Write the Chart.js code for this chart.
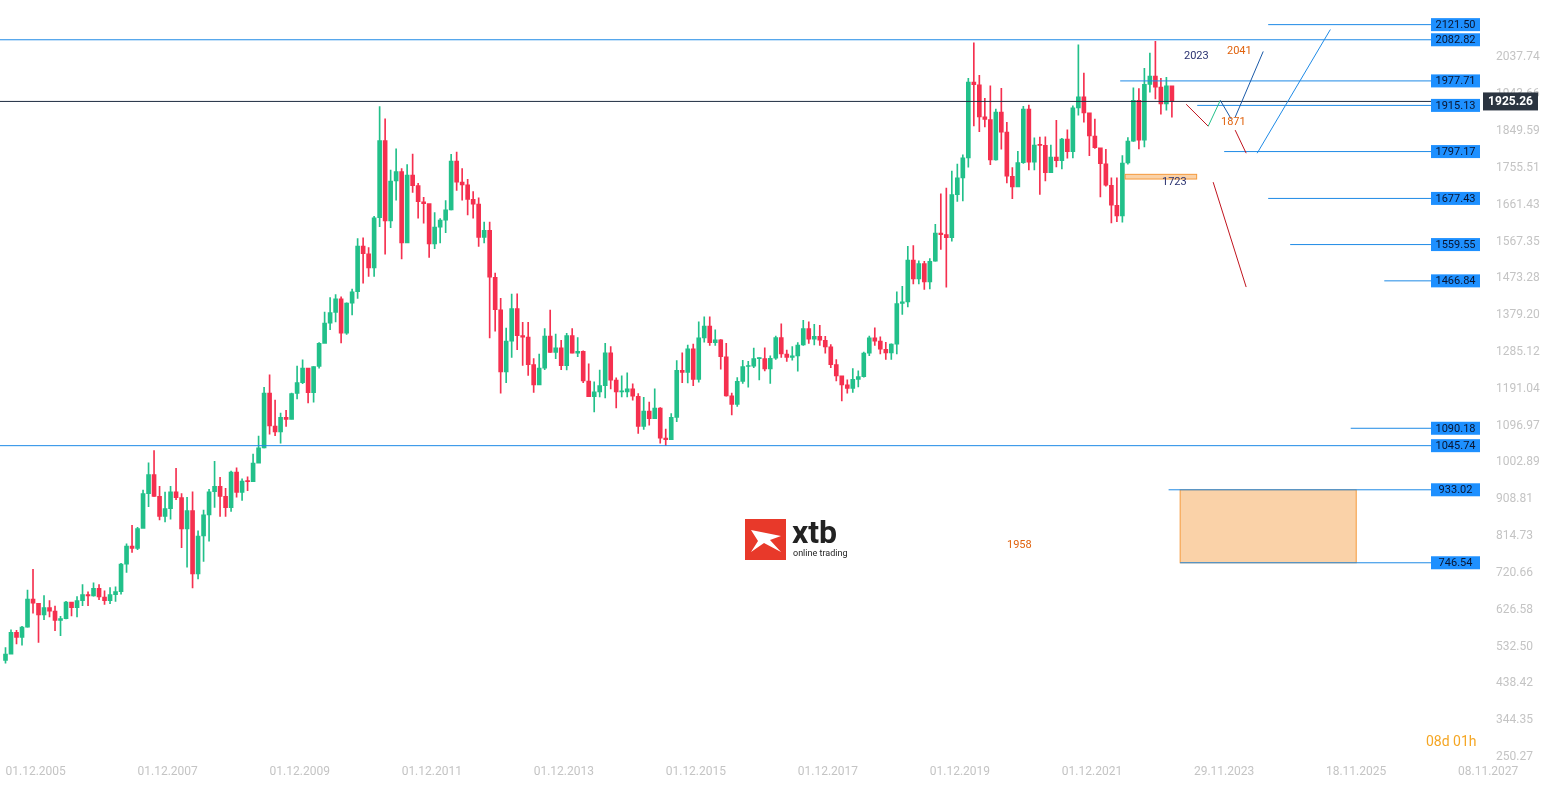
<!DOCTYPE html>
<html>
<head>
<meta charset="utf-8">
<script src="https://cdn.jsdelivr.net/npm/chart.js@4.4.1/dist/chart.umd.min.js"></script>
<style>
  html, body { margin: 0; padding: 0; background: #fff; }
</style>
</head>
<body>
<canvas id="chart" width="1548" height="787"></canvas>
<script>
// monthly candles, Dec 2005 .. Aug 2023 (x = months since Dec 2005)
const firstOpen = 497;
const closes = [513,
  569,556,582,654,643,613,632,623,599,604,646,632,
  650,665,662,681,659,650,665,673,743,789,783,834,
  923,972,916,865,885,928,913,833,880,718,815,869,
  928,942,916,887,978,926,955,954,1001,1040,1180,1096,
  1081,1118,1113,1179,1207,1244,1181,1248,1307,1359,1386,1421,
  1333,1410,1439,1556,1536,1500,1628,1825,1620,1722,1746,1564,
  1737,1710,1669,1664,1561,1604,1622,1648,1773,1719,1712,1675,
  1663,1578,1596,1476,1393,1234,1313,1396,1327,1323,1253,1201,
  1244,1326,1284,1296,1250,1327,1282,1287,1211,1171,1183,1199,
  1283,1213,1183,1183,1191,1172,1095,1134,1115,1142,1065,1061,
  1118,1238,1233,1293,1215,1321,1351,1309,1316,1273,1173,1151,
  1210,1248,1249,1268,1268,1242,1269,1322,1280,1271,1275,1303,
  1345,1318,1325,1315,1298,1253,1224,1201,1192,1215,1222,1282,
  1321,1313,1292,1283,1305,1409,1413,1520,1472,1511,1464,1517,
  1589,1585,1577,1687,1730,1781,1975,1968,1886,1879,1776,1898,
  1847,1734,1707,1769,1906,1770,1814,1813,1743,1783,1774,1829,
  1797,1909,1937,1896,1837,1807,1766,1711,1660,1633,1768,1824,
  1928,1826,1969,1990,1962,1919,1965,1925];
const highs = [530,
  575,574,584,677,730,632,663,650,636,610,648,640,
  660,691,672,695,691,675,683,685,745,795,842,837,
  932,1002,1033,942,927,942,988,923,914,928,828,881,
  934,1006,965,937,981,989,961,966,1024,1070,1195,1227,
  1162,1129,1136,1180,1249,1265,1212,1248,1309,1387,1424,1432,
  1426,1411,1446,1575,1577,1552,1632,1912,1881,1750,1804,1754,
  1764,1791,1716,1680,1625,1641,1626,1672,1790,1796,1754,1726,
  1695,1679,1617,1617,1487,1422,1346,1433,1434,1361,1361,1268,
  1280,1345,1392,1331,1315,1333,1345,1322,1288,1255,1209,1239,
  1307,1299,1219,1224,1232,1204,1179,1169,1157,1191,1143,1088,
  1128,1263,1283,1303,1305,1362,1375,1375,1342,1317,1307,1180,
  1220,1264,1261,1295,1270,1296,1275,1326,1357,1290,1299,1309,
  1366,1362,1356,1353,1325,1304,1266,1217,1214,1243,1237,1285,
  1326,1347,1324,1310,1306,1439,1453,1555,1557,1518,1517,1524,
  1611,1689,1704,1747,1765,1789,1984,2075,1992,1933,1965,1906,
  1959,1872,1756,1798,1913,1916,1832,1834,1835,1814,1877,1831,
  1853,1914,2070,1998,1869,1880,1784,1803,1730,1730,1787,1833,
  1960,1958,2010,2049,2079,1984,1987,1948];
const lows = [490,
  515,539,536,582,618,543,601,608,573,560,603,611,
  608,637,637,661,652,640,642,648,666,722,773,780,
  836,890,916,856,851,858,908,785,735,682,705,750,
  802,888,865,865,878,914,906,931,991,1003,1040,1075,
  1071,1052,1095,1114,1165,1204,1155,1157,1244,1316,1342,1362,
  1308,1330,1380,1422,1461,1478,1478,1605,1535,1603,1673,1523,
  1576,1693,1627,1614,1527,1549,1564,1590,1648,1698,1673,1635,
  1627,1555,1564,1321,1338,1180,1207,1271,1291,1251,1225,1182,
  1202,1240,1284,1268,1240,1239,1283,1273,1207,1183,1132,1170,
  1168,1191,1142,1170,1170,1162,1077,1087,1098,1136,1052,1046,
  1061,1107,1207,1206,1199,1208,1310,1302,1302,1241,1172,1124,
  1146,1205,1195,1245,1214,1237,1205,1266,1271,1261,1264,1236,
  1302,1307,1303,1302,1282,1245,1211,1160,1180,1182,1196,1221,
  1276,1302,1280,1266,1266,1280,1381,1400,1459,1459,1445,1446,
  1517,1547,1451,1568,1670,1671,1757,1863,1848,1860,1764,1775,
  1803,1717,1677,1723,1767,1750,1750,1688,1722,1746,1758,1753,
  1780,1781,1890,1872,1787,1805,1681,1709,1615,1618,1617,1765,
  1823,1804,1809,1949,1932,1893,1903,1885];

const xTickMonths = [0,24,48,72,96,120,144,168,192,216,240,264];
const xTickLabels = ["01.12.2005","01.12.2007","01.12.2009","01.12.2011","01.12.2013","01.12.2015",
  "01.12.2017","01.12.2019","01.12.2021","29.11.2023","18.11.2025","08.11.2027"];
const yTickValues = [250.27,344.35,438.42,532.50,626.58,720.66,814.73,908.81,1002.89,1096.97,
  1191.04,1285.12,1379.20,1473.28,1567.35,1661.43,1755.51,1849.59,1943.66,2037.74];

// horizontal levels: value and starting month
const levelValues = [2121.50,2082.82,1977.71,1915.13,1797.17,1677.43,1559.55,1466.84,1090.18,1045.74,933.02,746.54];
const levelStarts = [229.5,-1,202.6,216.6,221.5,229.5,233.5,250.6,244.5,-1,211.4,213.5];
const currentPrice = 1925.26;

// projection paths [month, price]
const redPath1 = [[214.6,1918],[218.6,1862]];
const greenPath = [[218.6,1862],[220.8,1928]];
const navyPath = [[220.8,1928],[222.8,1880]];
const navyPath2 = [[223.5,1885],[228.6,2053]];
const redPath2 = [[223.5,1852],[225.5,1793]];
const bluePath = [[227.5,1793],[240.8,2109]];
const redPath3 = [[219.5,1719],[225.5,1451]];
const zoneBig = [213.5,245.5,746.54,933.02];
const zoneSmall = [203.5,216.5,1727,1739];

const opens = closes.map((c, i) => i === 0 ? firstOpen : closes[i - 1]);
const UP = "#22c08a", DOWN = "#f5304f";
const candleColors = closes.map((c, i) => c >= opens[i] ? UP : DOWN);

const overlay = {
  id: "overlay",
  afterDatasetsDraw(chart) {
    const { ctx, chartArea: a, scales: { x, y } } = chart;
    const px = m => x.getPixelForValue(m), py = v => y.getPixelForValue(v);
    ctx.save();
    // zones
    ctx.fillStyle = "rgba(247,180,110,0.6)";
    ctx.strokeStyle = "#f59a3c";
    ctx.lineWidth = 1;
    for (const z of [zoneBig, zoneSmall]) {
      const x0 = px(z[0]), x1 = px(z[1]), y0 = py(z[3]), y1 = py(z[2]);
      ctx.fillRect(x0, y0, x1 - x0, y1 - y0);
      ctx.strokeRect(x0, y0, x1 - x0, y1 - y0);
    }
    // level lines
    ctx.strokeStyle = "#1e8ae6";
    levelValues.forEach((v, i) => {
      ctx.beginPath();
      ctx.moveTo(px(Math.max(levelStarts[i], x.min)), py(v));
      ctx.lineTo(a.right, py(v));
      ctx.stroke();
    });
    ctx.strokeStyle = "#1d2b40";
    ctx.beginPath(); ctx.moveTo(a.left, py(currentPrice)); ctx.lineTo(a.right, py(currentPrice)); ctx.stroke();
    // paths
    const path = (pts, col) => {
      ctx.strokeStyle = col; ctx.beginPath();
      pts.forEach((p, i) => i ? ctx.lineTo(px(p[0]), py(p[1])) : ctx.moveTo(px(p[0]), py(p[1])));
      ctx.stroke();
    };
    path(redPath1, "#c0141e"); path(greenPath, "#22c08a"); path(navyPath, "#1a5aa8"); path(navyPath2, "#1a5aa8");
    path(redPath2, "#c0141e"); path(bluePath, "#1e8ae6"); path(redPath3, "#c0141e");
    // texts
    ctx.font = "11px Roboto";
    ctx.textBaseline = "middle";
    ctx.fillStyle = "#2a3270"; ctx.fillText("2023", 1184, 56); ctx.fillText("1723", 1162, 182);
    ctx.fillStyle = "#e0620d"; ctx.fillText("2041", 1227, 51); ctx.fillText("1871", 1221, 122);
    ctx.fillText("1958", 1007, 545);
    ctx.font = "14px Roboto"; ctx.fillStyle = "#f5a623"; ctx.fillText("08d 01h", 1426, 742);
    // level boxes
    ctx.font = "11px Roboto";
    levelValues.forEach(v => {
      const yy = py(v);
      ctx.fillStyle = "#1e90ff";
      ctx.fillRect(a.right - 49, yy - 6.5, 49, 13);
      ctx.fillStyle = "#0a1530";
      ctx.textAlign = "center";
      ctx.fillText(v.toFixed(2), a.right - 24.5, yy + 0.5);
    });
    // current price box
    ctx.fillStyle = "#2b3440";
    ctx.fillRect(a.right + 3, py(currentPrice) - 9, 55, 18);
    ctx.fillStyle = "#fff"; ctx.font = "bold 12px Roboto";
    ctx.fillText(currentPrice.toFixed(2), a.right + 30.5, py(currentPrice) + 0.5);
    // logo
    ctx.textAlign = "left";
    ctx.fillStyle = "#e8392a"; ctx.fillRect(745, 519, 41, 41);
    ctx.fillStyle = "#fff";
    ctx.beginPath();
    ctx.moveTo(751, 530); ctx.lineTo(781, 536); ctx.lineTo(770, 540); ctx.lineTo(781, 552);
    ctx.lineTo(764, 543); ctx.lineTo(751, 552); ctx.lineTo(758, 541); ctx.closePath(); ctx.fill();
    ctx.fillStyle = "#222"; ctx.font = "bold 32px Roboto"; ctx.fillText("xtb", 792, 535);
    ctx.font = "9px Roboto"; ctx.fillText("online trading", 793, 554);
    ctx.restore();
  }
};

new Chart(document.getElementById("chart"), {
  type: "bar",
  data: {
    datasets: [
      { data: closes.map((c, i) => ({ x: i, y: [lows[i], highs[i]] })), backgroundColor: candleColors, barThickness: 1, grouped: false },
      { data: closes.map((c, i) => ({ x: i, y: [opens[i], c] })), backgroundColor: candleColors, barThickness: 4, minBarLength: 1, grouped: false }
    ]
  },
  options: {
    responsive: false, animation: false,
    devicePixelRatio: 1,
    layout: { padding: 0 },
    plugins: { legend: { display: false }, tooltip: { enabled: false } },
    scales: {
      x: {
        type: "linear", min: -1, max: 268, offset: false,
        grid: { display: false }, border: { display: false },
        afterBuildTicks: s => { s.ticks = xTickMonths.map(v => ({ value: v })); },
        afterFit: s => { s.height = 27; },
        ticks: { align: "start", padding: -3, maxRotation: 0, autoSkip: false, color: "#c4c4c4", font: { family: "Roboto", size: 12 },
          callback: v => xTickLabels[xTickMonths.indexOf(v)] }
      },
      y: {
        position: "right", min: 242.6, max: 2145.6,
        grid: { display: false }, border: { display: false },
        afterBuildTicks: s => { s.ticks = yTickValues.map(v => ({ value: v })); },
        afterFit: s => { s.width = 68; },
        ticks: { padding: 8, color: "#c4c4c4", font: { family: "Roboto", size: 12 }, callback: v => v.toFixed(2) }
      }
    }
  },
  plugins: [overlay]
});
</script>
</body>
</html>
